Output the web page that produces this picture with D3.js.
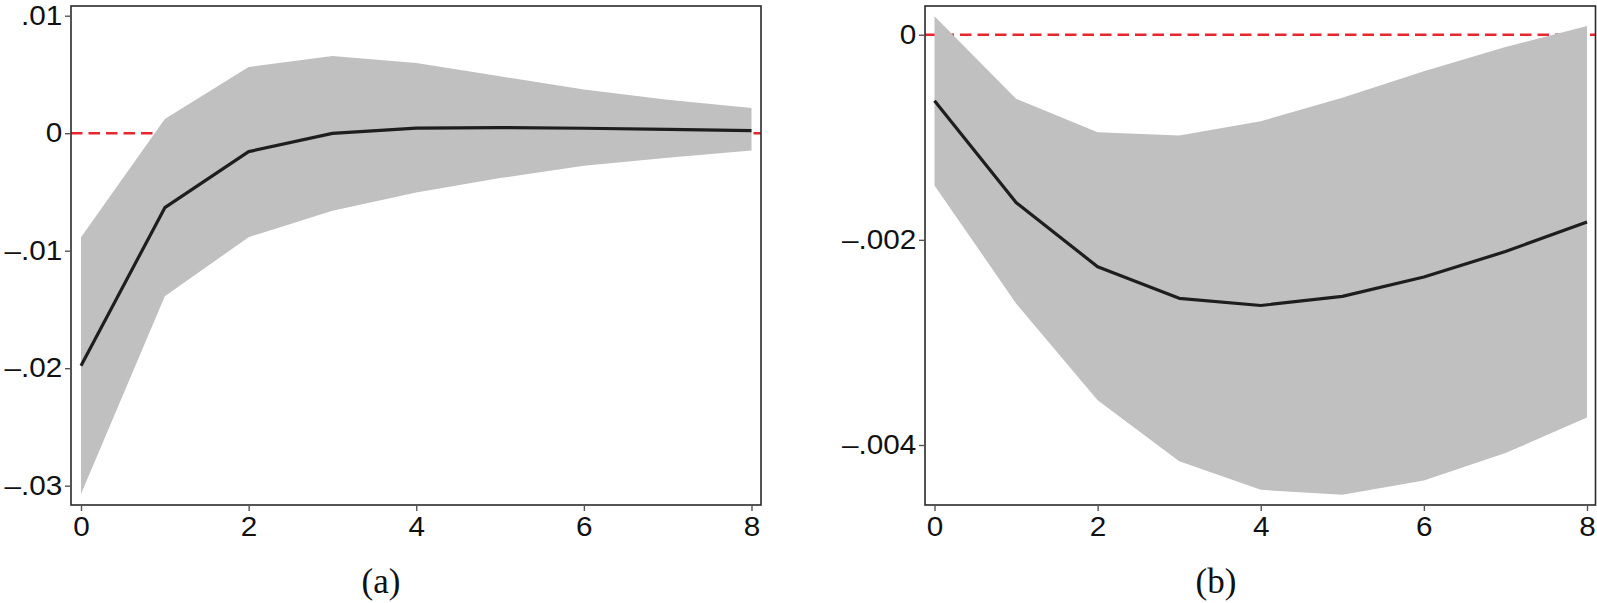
<!DOCTYPE html>
<html>
<head>
<meta charset="utf-8">
<script src="https://cdn.jsdelivr.net/npm/d3@7"></script>
<style>
  body { margin: 0; background: #fff; }
  svg { display: block; }
</style>
</head>
<body>
<div id="chart"></div>
<script>
// data
const steps = [0, 1, 2, 3, 4, 5, 6, 7, 8]

// panel (a)
const meanA  = [-0.0198, -0.00634, -0.00157, -0.00001, 0.00043, 0.00048, 0.00042, 0.00032, 0.00022]
const upperA = [-0.00885, 0.0012, 0.00563, 0.00658, 0.00597, 0.00484, 0.00372, 0.00285, 0.00215]
const lowerA = [-0.0307, -0.01388, -0.00885, -0.0066, -0.00504, -0.00382, -0.00278, -0.00209, -0.00148]
const yTicksA = [0.01, 0, -0.01, -0.02, -0.03]

// panel (b)
const meanB  = [-0.000644, -0.001637, -0.002262, -0.00257, -0.00264, -0.002551, -0.002362, -0.002114, -0.001826]
const upperB = [0.000179, -0.000625, -0.000952, -0.000982, -0.000843, -0.000615, -0.000357, -0.000119, 0.000085]
const lowerB = [-0.001469, -0.00262, -0.003563, -0.004159, -0.004437, -0.004486, -0.004347, -0.004079, -0.003732]
const yTicksB = [0, -0.002, -0.004]

const xTicks = [0, 2, 4, 6, 8]
const captions = ["(a)", "(b)"]

// const
const width = 1597
const height = 603
const stretch = 1.1   // tick labels are a little wide in the original

const svg = d3.select("#chart")
    .append("svg")
      .attr("width", width)
      .attr("height", height)

// tick label format: 0, .01, –.002
const fmt = digits => v => {
    if (v === 0) return "0"
    const s = d3.format("." + digits + "f")(Math.abs(v)).replace(/^0/, "")
    return (v < 0 ? "\u2013" : "") + s
}

function drawPanel(p) {
    const g = svg.append("g")

    const x = d3.scaleLinear().domain([0, 8]).range(p.xRange)
    const y = d3.scaleLinear().domain(p.yDomain).range(p.yRange)

    // zero line (behind the band)
    g.append("line")
        .attr("x1", p.box.left).attr("x2", p.box.right)
        .attr("y1", y(0)).attr("y2", y(0))
        .attr("stroke", "#e8262e")
        .attr("stroke-width", 2.5)
        .attr("stroke-dasharray", "11.5,6")

    // confidence band
    g.append("path")
        .datum(steps)
        .attr("fill", "#c0c0c0")
        .attr("d", d3.area()
            .x(i => x(i))
            .y0(i => y(p.lower[i]))
            .y1(i => y(p.upper[i])))

    // response
    g.append("path")
        .datum(steps)
        .attr("fill", "none")
        .attr("stroke", "#1e1e1e")
        .attr("stroke-width", 3.2)
        .attr("stroke-linejoin", "round")
        .attr("d", d3.line()
            .x(i => x(i))
            .y(i => y(p.mean[i])))

    // frame
    g.append("rect")
        .attr("x", p.box.left).attr("y", p.box.top)
        .attr("width", p.box.right - p.box.left)
        .attr("height", p.box.bottom - p.box.top)
        .attr("fill", "none")
        .attr("stroke", "#2a2a2a")
        .attr("stroke-width", 1.6)

    // axes
    const yAxis = g.append("g")
        .attr("transform", `translate(${p.box.left},0)`)
        .call(d3.axisLeft(y).tickValues(p.yTicks).tickFormat(fmt(p.digits))
            .tickSize(6).tickPadding(2))
    const xAxis = g.append("g")
        .attr("transform", `translate(0,${p.box.bottom})`)
        .call(d3.axisBottom(x).tickValues(xTicks).tickFormat(d3.format("d"))
            .tickSize(6).tickPadding(6))

    for (const ax of [yAxis, xAxis]) {
        ax.select(".domain").remove()
        ax.selectAll(".tick line").attr("stroke", "#555").attr("stroke-width", 1.4)
        ax.selectAll(".tick text")
            .attr("fill", "#111")
            .attr("font-family", "'Liberation Sans', Arial, sans-serif")
            .attr("font-size", 27)
            .attr("transform", `scale(${stretch},1)`)
    }
    // keep x labels centred after the stretch
    xAxis.selectAll(".tick text").attr("x", 0)

    // caption
    svg.append("text")
        .attr("x", p.captionX)
        .attr("y", 593)
        .attr("text-anchor", "middle")
        .attr("font-family", "'Liberation Serif', 'DejaVu Serif', serif")
        .attr("font-size", 35)
        .attr("fill", "#111")
        .text(p.caption)
}

drawPanel({
    mean: meanA, upper: upperA, lower: lowerA,
    yTicks: yTicksA, digits: 2,
    xRange: [81, 751.5],
    yDomain: [-0.03, 0.01], yRange: [485.7, 15.7],
    box: { left: 71, right: 761, top: 6, bottom: 505 },
    caption: captions[0], captionX: 381
})

drawPanel({
    mean: meanB, upper: upperB, lower: lowerB,
    yTicks: yTicksB, digits: 3,
    xRange: [934.5, 1587],
    yDomain: [-0.004, 0], yRange: [445, 34.7],
    box: { left: 925, right: 1595.5, top: 6, bottom: 505 },
    caption: captions[1], captionX: 1216
})
</script>
</body>
</html>
